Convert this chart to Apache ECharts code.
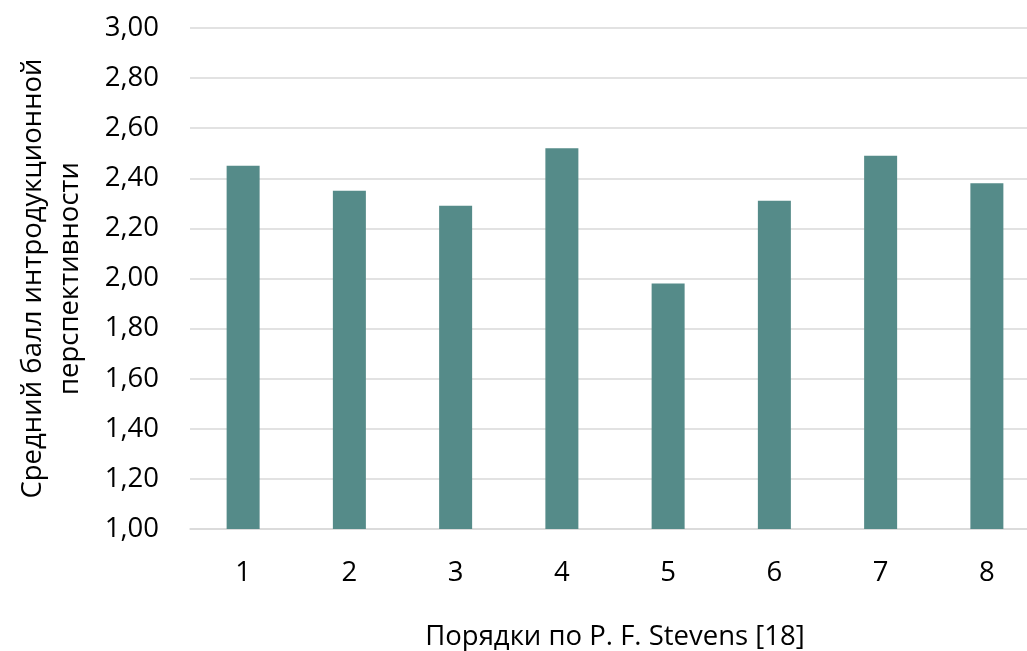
<!DOCTYPE html>
<html><head><meta charset="utf-8">
<script src="https://cdn.jsdelivr.net/npm/echarts@6/dist/echarts.min.js"></script>
<style>html,body{margin:0;padding:0;background:#fff}#c{width:1027px;height:651px}</style>
</head><body><div id="c"></div>
<script>
const categories = ['1','2','3','4','5','6','7','8'];
const values = [2.45, 2.35, 2.29, 2.52, 1.98, 2.31, 2.49, 2.38];
const yAxisTitle = 'Средний балл интродукционной\nперспективности';
const xAxisTitle = 'Порядки по P. F. Stevens [18]';

const FONT = 'Open Sans';
const chart = echarts.init(document.getElementById('c'), null, {renderer:'canvas'});
chart.setOption({
  animation: false,
  backgroundColor: '#fff',
  grid: {left: 190, top: 28, width: 850, height: 501, containLabel: false, outerBoundsMode: 'none'},
  xAxis: {
    type: 'category', data: categories,
    axisLine: {lineStyle: {color: '#d9d9d9', width: 1.5}},
    axisTick: {show: false},
    axisLabel: {color: '#000', fontFamily: FONT, fontSize: 27.5, margin: 30},
    name: xAxisTitle, nameLocation: 'middle', nameGap: 94,
    nameTextStyle: {color: '#000', fontFamily: FONT, fontSize: 27.5}
  },
  yAxis: {
    type: 'value', min: 1, max: 3, interval: 0.2,
    axisLine: {show: false}, axisTick: {show: false},
    splitLine: {lineStyle: {color: '#d9d9d9', width: 1.5}},
    axisLabel: {color: '#000', fontFamily: FONT, fontSize: 27.5, margin: 31,
      formatter: v => v.toFixed(2).replace('.', ',')},
    name: yAxisTitle, nameLocation: 'middle', nameGap: 101, nameRotate: 90,
    nameTextStyle: {color: '#000', fontFamily: FONT, fontSize: 27.5, lineHeight: 37, align: 'center'}
  },
  series: [{
    type: 'bar', data: values, barWidth: 33,
    itemStyle: {color: '#558B89'}
  }]
});
</script></body></html>
